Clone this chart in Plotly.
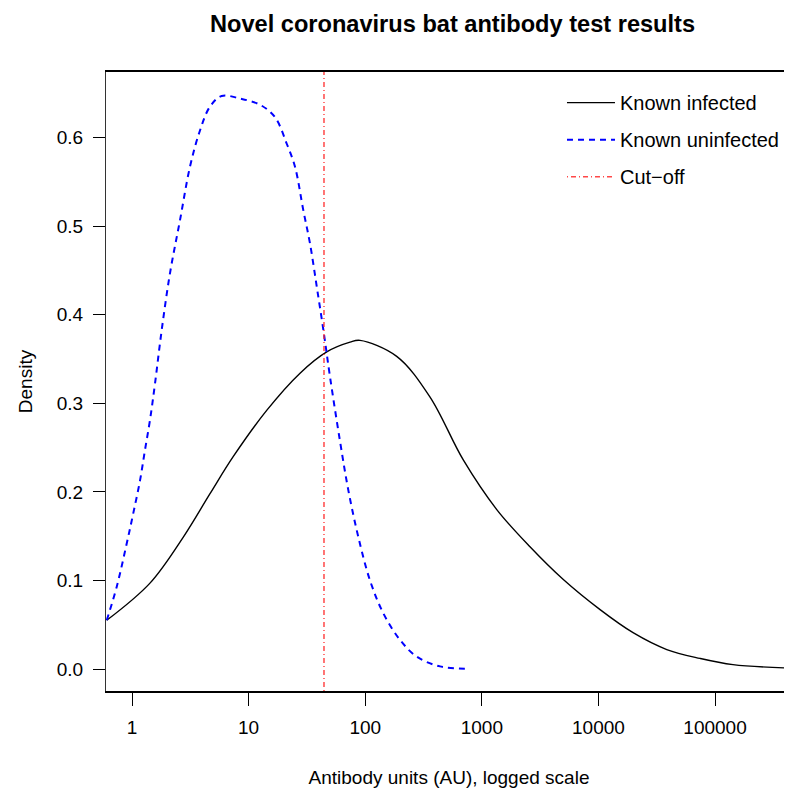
import plotly.graph_objects as go

# density of antibody units, known infected bats (AU, density)
infected_au = [0.607, 1.426, 2.754, 4.667, 7.396, 14.29, 27.61, 46.77, 74.13, 90.16,
               186.2, 359.7, 693.4, 1343, 2588, 5000, 10330, 19815, 38550, 74300,
               142560, 457100]
infected_dens = [0.055, 0.097, 0.149, 0.198, 0.240, 0.292, 0.334, 0.358, 0.369, 0.371,
                 0.353, 0.307, 0.236, 0.180, 0.138, 0.101, 0.067, 0.041, 0.022, 0.012,
                 0.005, 0.001]

# density of antibody units, known uninfected bats
uninfected_au = [0.607, 0.740, 0.902, 1.026, 1.172, 1.291, 1.426, 1.574, 1.799, 2.118,
                 2.582, 3.141, 3.828, 4.667, 5.875, 8.433, 12.53, 16.83, 21.23, 25.00,
                 29.44, 33.65, 38.37, 43.75, 49.89, 60.81, 71.61, 87.30, 109.9, 142.9,
                 198.6, 276.7, 437.5, 792.5]
uninfected_dens = [0.055, 0.093, 0.142, 0.176, 0.213, 0.247, 0.281, 0.322, 0.383, 0.447,
                   0.507, 0.567, 0.608, 0.635, 0.647, 0.644, 0.637, 0.623, 0.593, 0.567,
                   0.518, 0.480, 0.432, 0.383, 0.330, 0.257, 0.202, 0.149, 0.100, 0.063,
                   0.033, 0.014, 0.003, 0.0003]

cutoff = 44.3

x_tickvals = [1, 10, 100, 1000, 10000, 100000]
x_ticktext = ['1', '10', '100', '1000', '10000', '100000']
y_tickvals = [0.0, 0.1, 0.2, 0.3, 0.4, 0.5, 0.6]

x_range = [-0.223, 5.66]   # log10 units
y_range = [-0.0248, 0.674]

FONT = 'Liberation Sans, Arial, sans-serif'

fig = go.Figure()

fig.add_trace(go.Scatter(
    x=infected_au, y=infected_dens, mode='lines', name='Known infected',
    line=dict(color='black', width=1.4, shape='spline'),
    legendgroup='a'
))

fig.add_trace(go.Scatter(
    x=uninfected_au, y=uninfected_dens, mode='lines', name='Known uninfected',
    line=dict(color='blue', width=2, dash='6px,5px', shape='spline'),
    legendgroup='b'
))

# cut-off line spans the whole plotting region
fig.add_trace(go.Scatter(
    x=[cutoff, cutoff], y=y_range, mode='lines', name='Cut\u2212off',
    line=dict(color='rgba(255,40,40,0.85)', width=1.5, dash='1px,3px,5px,3px'),
    legendgroup='c'
))

# page has an 8px body margin, so the figure is offset by 8px
fig.update_layout(
    width=784, height=781,
    margin=dict(l=98, r=0, t=64, b=98),
    paper_bgcolor='white', plot_bgcolor='white',
    font=dict(family=FONT, size=19, color='black'),
    title=dict(text='<b>Novel coronavirus bat antibody test results</b>',
               x=0.567, xanchor='center', y=0.98, yanchor='middle',
               font=dict(size=23.6, family=FONT)),
    showlegend=True,
    legend=dict(x=0.6647, y=0.982, xanchor='left', yanchor='top',
                bgcolor='rgba(0,0,0,0)', tracegroupgap=8, itemwidth=48,
                font=dict(size=20, family=FONT)),
)

fig.update_xaxes(
    type='log', range=x_range, automargin=False,
    tickvals=x_tickvals, ticktext=x_ticktext,
    ticks='outside', ticklen=13, tickwidth=1.3, tickcolor='black',
    ticklabelstandoff=5,
    showline=True, linecolor='black', linewidth=1.5, mirror=True,
    showgrid=False, zeroline=False,
    title=dict(text='Antibody units (AU), logged scale', standoff=34,
               font=dict(size=19)),
)

fig.update_yaxes(
    range=y_range, tickvals=y_tickvals, tickformat='.1f', automargin=False,
    ticks='outside', ticklen=12, tickwidth=1.3, tickcolor='black',
    ticklabelstandoff=6,
    showline=True, linecolor='#333333', linewidth=1.3,
    showgrid=False, zeroline=False,
    title=dict(text='Density', standoff=18, font=dict(size=19)),
)

fig.write_html('out.html')
